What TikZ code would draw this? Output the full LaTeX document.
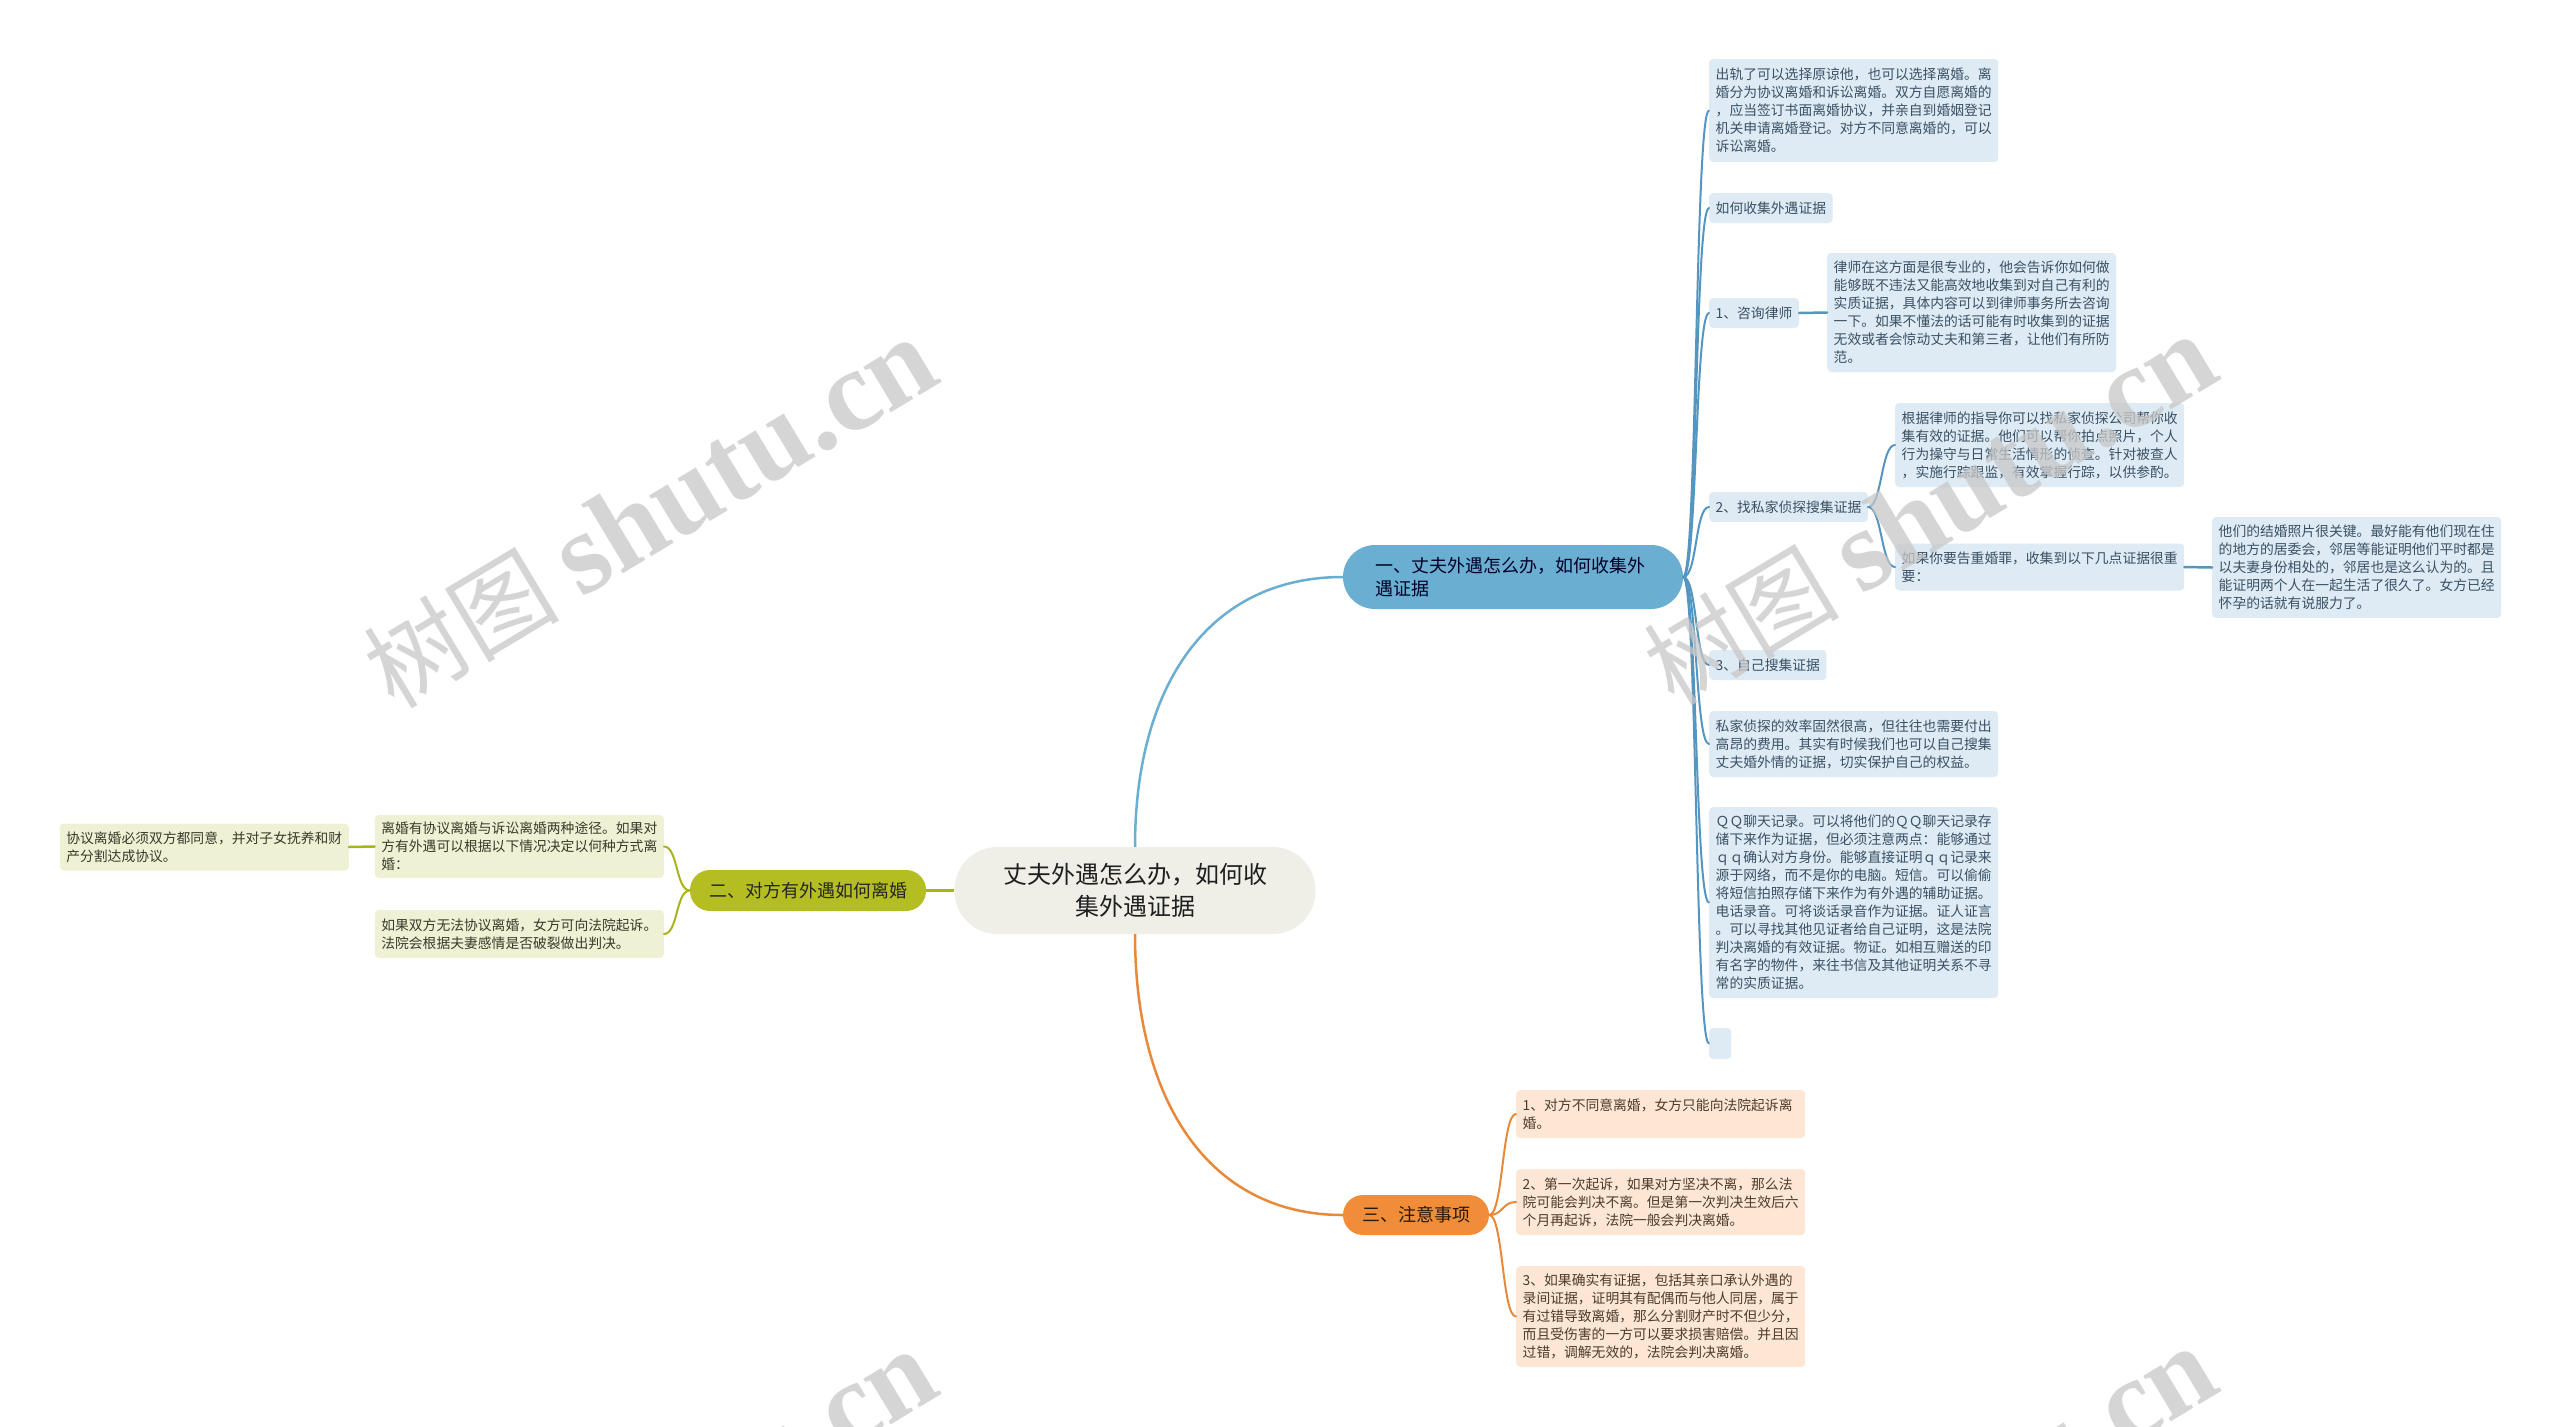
\documentclass[tikz,border=0pt]{standalone}
\usepackage{fontspec}
\setmainfont{Noto Sans CJK SC}
\newfontfamily\wmcjk{Noto Sans CJK SC}
\newfontfamily\wmlatin{Liberation Serif}
\definecolor{centerfill}{HTML}{EFEFE7}
\definecolor{bluefill}{HTML}{6AAED2}
\definecolor{bluelight}{HTML}{DEEBF4}
\definecolor{bluetext}{HTML}{3A5064}
\definecolor{blueline}{HTML}{5596C0}
\definecolor{greenfill}{HTML}{B4BD21}
\definecolor{greenlight}{HTML}{EFF1D5}
\definecolor{greentext}{HTML}{3A3A2A}
\definecolor{greenline}{HTML}{A9B41A}
\definecolor{orangefill}{HTML}{F18D38}
\definecolor{orangelight}{HTML}{FDE6D3}
\definecolor{orangetext}{HTML}{4E3B2C}
\definecolor{orangeline}{HTML}{E8893A}
\definecolor{wmgray}{HTML}{C8C8C8}
\tikzset{
  leaf/.style={rounded corners=4pt, inner xsep=6.5pt, inner ysep=6pt,
    font=\fontsize{13.8pt}{18pt}\selectfont, align=left, anchor=west, minimum height=30pt},
  wide/.style={leaf, text width=276pt},
  bleaf/.style={fill=bluelight, text=bluetext},
  gleaf/.style={fill=greenlight, text=greentext},
  oleaf/.style={fill=orangelight, text=orangetext},
  bl/.style={draw=blueline, line width=2pt, line cap=round},
  gl/.style={draw=greenline, line width=2pt, line cap=round},
  ol/.style={draw=orangeline, line width=2pt, line cap=round},
  branch/.style={font=\fontsize{18pt}{23pt}\selectfont, inner sep=0pt},
  wm/.style={text=wmgray, opacity=0.75, inner sep=0pt, rotate=31}
}
\begin{document}
\begin{tikzpicture}[x=1pt,y=-1pt]
\useasboundingbox (0,0) rectangle (2560,1427);
\fill[white] (0,0) rectangle (2560,1427);

% central and main branches
\node[fill=centerfill, rounded corners=43pt, minimum width=361pt, minimum height=87pt,
  align=center, font=\fontsize{24pt}{32pt}\selectfont, text=black!88, inner sep=0pt]
  (c) at (1135,890.5) {丈夫外遇怎么办，如何收\\集外遇证据};
\node[branch, fill=bluefill, rounded corners=32pt, minimum width=340pt, minimum height=64pt,
  text width=276pt, align=left, inner xsep=32pt, text=black!85!blue]
  (b1) at (1513,577) {一、丈夫外遇怎么办，如何收集外\\遇证据};
\node[branch, fill=greenfill, rounded corners=20pt, minimum width=236pt, minimum height=41pt,
  text=black!85] (b2) at (808,890.5) {二、对方有外遇如何离婚};
\node[branch, fill=orangefill, rounded corners=20pt, minimum width=146pt, minimum height=40pt,
  text=black!80!brown] (b3) at (1416,1215) {三、注意事项};

\draw[draw=bluefill, line width=2.5pt] (c.north) .. controls (1135,686) and (1208,577) .. (b1.west);
\draw[draw=orangeline, line width=2.5pt] (c.south) .. controls (1135,1100) and (1208,1215) .. (b3.west);
\draw[draw=greenline, line width=2.5pt] (c.west) -- (b2.east);

% blue children
\node[wide, bleaf, minimum height=103pt] (a1) at (1709,110.5) {出轨了可以选择原谅他，也可以选择离婚。离\\婚分为协议离婚和诉讼离婚。双方自愿离婚的\\，应当签订书面离婚协议，并亲自到婚姻登记\\机关申请离婚登记。对方不同意离婚的，可以\\诉讼离婚。};
\node[leaf, bleaf] (a2) at (1709,208) {如何收集外遇证据};
\node[leaf, bleaf] (a3) at (1709,313) {1、咨询律师};
\node[wide, bleaf, minimum height=119pt] (a3x) at (1827,312.5) {律师在这方面是很专业的，他会告诉你如何做\\能够既不违法又能高效地收集到对自己有利的\\实质证据，具体内容可以到律师事务所去咨询\\一下。如果不懂法的话可能有时收集到的证据\\无效或者会惊动丈夫和第三者，让他们有所防\\范。};
\node[leaf, bleaf] (a4) at (1709,507) {2、找私家侦探搜集证据};
\node[wide, bleaf, minimum height=84pt] (a4x) at (1895,445) {根据律师的指导你可以找私家侦探公司帮你收\\集有效的证据。他们可以帮你拍点照片，个人\\行为操守与日常生活情形的侦查。针对被查人\\，实施行踪跟监，有效掌握行踪，以供参酌。};
\node[wide, bleaf, minimum height=47pt] (a4y) at (1895,567) {如果你要告重婚罪，收集到以下几点证据很重\\要：};
\node[wide, bleaf, minimum height=101pt] (a4z) at (2212,567.5) {他们的结婚照片很关键。最好能有他们现在住\\的地方的居委会，邻居等能证明他们平时都是\\以夫妻身份相处的，邻居也是这么认为的。且\\能证明两个人在一起生活了很久了。女方已经\\怀孕的话就有说服力了。};
\node[leaf, bleaf] (a5) at (1709,665) {3、自己搜集证据};
\node[wide, bleaf, minimum height=66pt] (a6) at (1709,744) {私家侦探的效率固然很高，但往往也需要付出\\高昂的费用。其实有时候我们也可以自己搜集\\丈夫婚外情的证据，切实保护自己的权益。};
\node[wide, bleaf, minimum height=191pt] (a7) at (1709,902.5) {ＱＱ聊天记录。可以将他们的ＱＱ聊天记录存\\储下来作为证据，但必须注意两点：能够通过\\ｑｑ确认对方身份。能够直接证明ｑｑ记录来\\源于网络，而不是你的电脑。短信。可以偷偷\\将短信拍照存储下来作为有外遇的辅助证据。\\电话录音。可将谈话录音作为证据。证人证言\\。可以寻找其他见证者给自己证明，这是法院\\判决离婚的有效证据。物证。如相互赠送的印\\有名字的物件，来往书信及其他证明关系不寻\\常的实质证据。};
\node[leaf, bleaf, inner sep=0pt, minimum width=22pt, minimum height=31pt] (a8) at (1709,1043.5) {};

\foreach \n in {a1,a2,a3,a4,a5,a6,a7,a8}
  \draw[bl] (b1.east) .. controls +(14,0) and +(-14,0) .. (\n.west);
\draw[bl, line width=2.5pt] (a3.east) -- (a3x.west);
\foreach \n in {a4x,a4y}
  \draw[bl] (a4.east) .. controls +(14,0) and +(-14,0) .. (\n.west);
\draw[bl, line width=2.5pt] (a4y.east) -- (a4z.west);

% green children
\node[wide, gleaf, minimum height=63pt, anchor=east] (g1) at (664,846.5) {离婚有协议离婚与诉讼离婚两种途径。如果对\\方有外遇可以根据以下情况决定以何种方式离\\婚：};
\node[wide, gleaf, minimum height=48pt, anchor=east] (g2) at (664,934) {如果双方无法协议离婚，女方可向法院起诉。\\法院会根据夫妻感情是否破裂做出判决。};
\node[wide, gleaf, minimum height=47pt, anchor=east] (g3) at (349,847) {协议离婚必须双方都同意，并对子女抚养和财\\产分割达成协议。};
\foreach \n in {g1,g2}
  \draw[gl] (b2.west) .. controls +(-14,0) and +(14,0) .. (\n.east);
\draw[gl, line width=2.5pt] (g1.west) -- (g3.east);

% orange children
\node[wide, oleaf, minimum height=48pt] (o1) at (1516,1114) {1、对方不同意离婚，女方只能向法院起诉离\\婚。};
\node[wide, oleaf, minimum height=66pt] (o2) at (1516,1202) {2、第一次起诉，如果对方坚决不离，那么法\\院可能会判决不离。但是第一次判决生效后六\\个月再起诉，法院一般会判决离婚。};
\node[wide, oleaf, minimum height=101pt] (o3) at (1516,1316.5) {3、如果确实有证据，包括其亲口承认外遇的\\录间证据，证明其有配偶而与他人同居，属于\\有过错导致离婚，那么分割财产时不但少分，\\而且受伤害的一方可以要求损害赔偿。并且因\\过错，调解无效的，法院会判决离婚。};
\foreach \n in {o1,o2,o3}
  \draw[ol] (b3.east) .. controls +(14,0) and +(-14,0) .. (\n.west);

% watermarks
\begin{scope}
\clip (0,0) rectangle (2560,1427);
\foreach \x/\y [count=\i] in {650/514, 1930/511, 650/1526, 1930/1523}
  \node[wm] (wm\i) at (\x,\y) {{\wmcjk\fontsize{98pt}{98pt}\selectfont 树图}\hspace{22pt}{\wmlatin\bfseries\fontsize{116pt}{116pt}\selectfont shutu.cn}};
\end{scope}
\end{tikzpicture}
\end{document}
